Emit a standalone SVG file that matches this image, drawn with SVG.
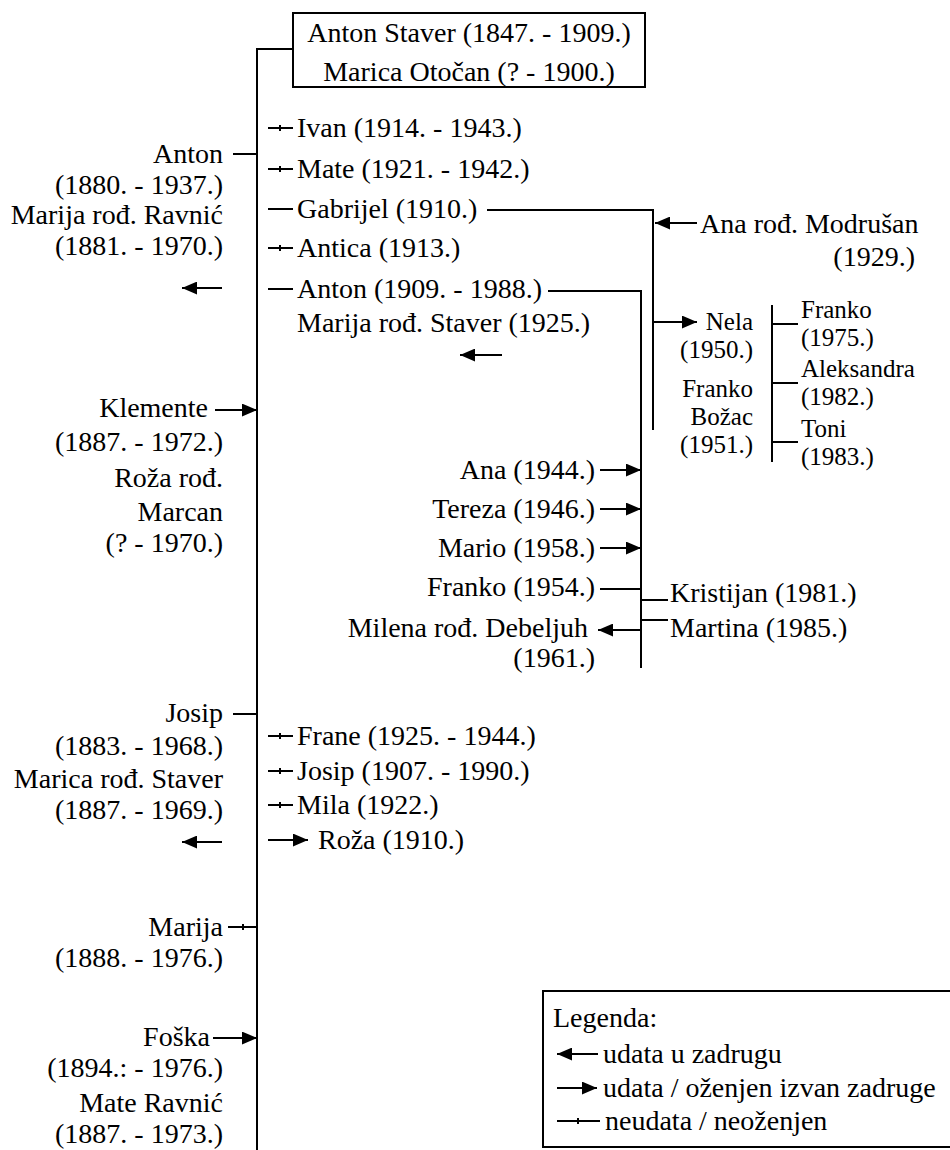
<svg xmlns="http://www.w3.org/2000/svg" width="950" height="1150" viewBox="0 0 950 1150">
<style>
text{font-family:"Liberation Serif","Times New Roman",serif;font-size:28px;fill:#000}
.s{font-size:25px}
.r{text-anchor:end}
.m{text-anchor:middle}
.ln{stroke:#000;stroke-width:2;fill:none}
.box{stroke:#000;stroke-width:2;fill:#fff}
.ar{marker-end:url(#ah)}
</style>
<defs>
<marker id="ah" viewBox="0 0 14 12" refX="14" refY="6" markerWidth="15" markerHeight="13" markerUnits="userSpaceOnUse" orient="auto"><path d="M0,0 L14,6 L0,12 Z" fill="#000"/></marker>
</defs>
<rect width="950" height="1150" fill="#fff"/>

<g id="connectors" class="ln">
<!-- trunk -->
<path d="M293,49 H257 V1150"/>
<!-- Anton -->
<path d="M233,154 H257"/>
<path d="M222,288 H182" class="ln ar"/>
<!-- Anton's children -->
<path d="M268,128 H293 M280,125 V131"/>
<path d="M268,169 H293 M280,166 V172"/>
<path d="M268,209 H293"/>
<path d="M268,248 H293 M280,245 V251"/>
<path d="M268,289 H293"/>
<path d="M502,355 H460" class="ln ar"/>
<!-- Gabrijel branch -->
<path d="M487,210 H653 V430"/>
<path d="M697,223 H655" class="ln ar"/>
<path d="M653,322 H697" class="ln ar"/>
<path d="M772,305 V462 M772,324 H798 M772,383 H798 M772,442 H798"/>
<!-- Anton (1909) branch -->
<path d="M548,291 H641 V668"/>
<path d="M600,470 H641" class="ln ar"/>
<path d="M600,509 H641" class="ln ar"/>
<path d="M600,548 H641" class="ln ar"/>
<path d="M600,589 H641"/>
<path d="M641,630 H598" class="ln ar"/>
<path d="M641,600 H668"/>
<path d="M641,620 H668"/>
<!-- Klemente -->
<path d="M215,410 H257" class="ln ar"/>
<!-- Josip -->
<path d="M233,714 H257"/>
<path d="M222,842 H182" class="ln ar"/>
<path d="M268,736 H293 M280,733 V739"/>
<path d="M268,771 H293 M280,768 V774"/>
<path d="M268,805 H293 M280,802 V808"/>
<path d="M268,840 H308" class="ln ar"/>
<!-- Marija -->
<path d="M228,927 H257 M243,924 V930"/>
<!-- Foška -->
<path d="M213,1038 H257" class="ln ar"/>
</g>

<g id="root">
<rect class="box" x="293" y="13" width="352" height="74"/>
<text class="m" x="469" y="42">Anton Staver (1847. - 1909.)</text>
<text class="m" x="469" y="81">Marica Otočan (? - 1900.)</text>
</g>

<g id="anton">
<text class="r" x="223" y="163">Anton</text>
<text class="r" x="223" y="194">(1880. - 1937.)</text>
<text class="r" x="223" y="224">Marija rođ. Ravnić</text>
<text class="r" x="223" y="255">(1881. - 1970.)</text>
</g>
<g id="ivan"><text x="297" y="137">Ivan (1914. - 1943.)</text></g>
<g id="mate"><text x="297" y="178">Mate (1921. - 1942.)</text></g>
<g id="gabrijel"><text x="297" y="218">Gabrijel (1910.)</text></g>
<g id="antica"><text x="297" y="257">Antica (1913.)</text></g>
<g id="anton2">
<text x="297" y="298">Anton (1909. - 1988.)</text>
<text x="297" y="332">Marija rođ. Staver (1925.)</text>
</g>
<g id="ana-modrusan">
<text x="700" y="233">Ana rođ. Modrušan</text>
<text class="r" x="915" y="266">(1929.)</text>
</g>
<g id="nela">
<text class="r s" x="753" y="330">Nela</text>
<text class="r s" x="753" y="358">(1950.)</text>
<text class="r s" x="753" y="397">Franko</text>
<text class="r s" x="753" y="425">Božac</text>
<text class="r s" x="753" y="453">(1951.)</text>
</g>
<g id="franko-1975"><text class="s" x="801" y="318">Franko</text><text class="s" x="801" y="346">(1975.)</text></g>
<g id="aleksandra"><text class="s" x="801" y="377">Aleksandra</text><text class="s" x="801" y="405">(1982.)</text></g>
<g id="toni"><text class="s" x="801" y="437">Toni</text><text class="s" x="801" y="465">(1983.)</text></g>

<g id="ana-1944"><text class="r" x="595" y="479">Ana (1944.)</text></g>
<g id="tereza"><text class="r" x="595" y="518">Tereza (1946.)</text></g>
<g id="mario"><text class="r" x="595" y="557">Mario (1958.)</text></g>
<g id="franko-1954"><text class="r" x="595" y="596">Franko (1954.)</text></g>
<g id="milena">
<text class="r" x="588" y="637">Milena rođ. Debeljuh</text>
<text class="r" x="595" y="667">(1961.)</text>
</g>
<g id="kristijan"><text x="670" y="602">Kristijan (1981.)</text></g>
<g id="martina"><text x="670" y="637">Martina (1985.)</text></g>

<g id="klemente">
<text class="r" x="208" y="417">Klemente</text>
<text class="r" x="223" y="451">(1887. - 1972.)</text>
<text class="r" x="223" y="487">Roža rođ.</text>
<text class="r" x="223" y="521">Marcan</text>
<text class="r" x="223" y="552">(? - 1970.)</text>
</g>

<g id="josip">
<text class="r" x="223" y="722">Josip</text>
<text class="r" x="223" y="755">(1883. - 1968.)</text>
<text class="r" x="223" y="788">Marica rođ. Staver</text>
<text class="r" x="223" y="819">(1887. - 1969.)</text>
</g>
<g id="frane"><text x="297" y="745">Frane (1925. - 1944.)</text></g>
<g id="josip2"><text x="297" y="780">Josip (1907. - 1990.)</text></g>
<g id="mila"><text x="297" y="814">Mila (1922.)</text></g>
<g id="roza"><text x="318" y="849">Roža (1910.)</text></g>

<g id="marija">
<text class="r" x="223" y="936">Marija</text>
<text class="r" x="223" y="967">(1888. - 1976.)</text>
</g>

<g id="foska">
<text class="r" x="210" y="1046">Foška</text>
<text class="r" x="223" y="1077">(1894.: - 1976.)</text>
<text class="r" x="223" y="1112">Mate Ravnić</text>
<text class="r" x="223" y="1143">(1887. - 1973.)</text>
</g>

<g id="legend">
<rect class="box" x="543" y="991" width="420" height="156"/>
<text x="553" y="1027">Legenda:</text>
<path class="ln ar" d="M598,1054 H557"/>
<text x="603" y="1063">udata u zadrugu</text>
<path class="ln ar" d="M557,1088 H597"/>
<text x="603" y="1097">udata / oženjen izvan zadruge</text>
<path class="ln" d="M557,1121 H600 M578,1118 V1124"/>
<text x="605" y="1130">neudata / neoženjen</text>
</g>
</svg>
